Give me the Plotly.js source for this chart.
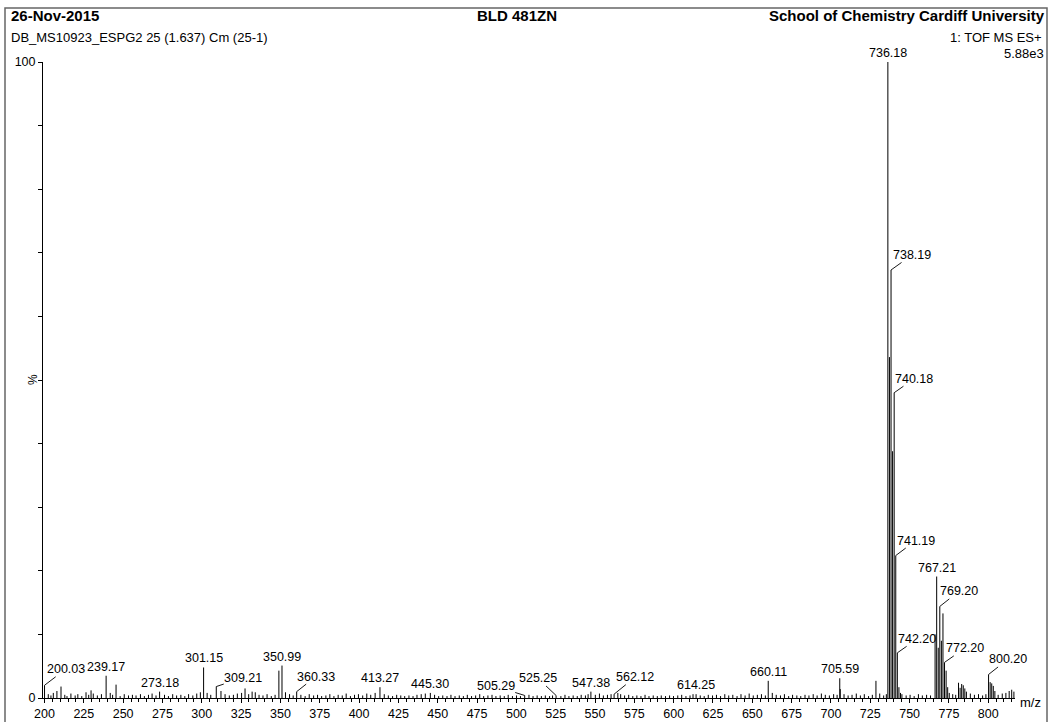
<!DOCTYPE html>
<html>
<head>
<meta charset="utf-8">
<script src="https://cdn.plot.ly/plotly-3.0.1.min.js"></script>
<style>
  html, body { margin: 0; padding: 0; background: #fff; }
  #chart { width: 1052px; height: 722px; }
</style>
</head>
<body>
<div id="chart"></div>
<script>
// Labelled peaks: m/z and relative intensity (%)
const labelMz = [200.03, 239.17, 273.18, 301.15, 309.21, 350.99, 360.33, 413.27, 445.30,
                 505.29, 525.25, 547.38, 562.12, 614.25, 660.11, 705.59, 736.18, 738.19,
                 740.18, 741.19, 742.20, 767.21, 769.20, 772.20, 800.20];
const labelInt = [2.0, 3.5, 1.0, 4.8, 1.8, 5.1, 1.0, 1.7, 0.8,
                  0.4, 0.4, 1.0, 0.6, 0.6, 2.7, 3.1, 100, 67.3,
                  48.0, 22.4, 7.1, 19.1, 14.4, 5.6, 3.7];

// Other resolved peaks (unlabelled)
const peakMz = [207.9, 210.5, 229.6, 245.5, 327.5, 334.0, 349.01, 705.9, 728.6, 735.2,
                737.18, 739.18, 743.20, 744.2, 766.20, 768.20, 770.20, 771.20, 773.20, 774.20,
                775.2, 781.1, 782.1, 783.1, 784.1, 785.1, 786.1, 801.20, 802.20, 803.2,
                804.2, 813.3, 814.9, 816.3];
const peakInt = [1.1, 1.8, 1.2, 2.1, 1.5, 0.9, 4.3, 1.4, 2.7, 0.6,
                 53.6, 38.8, 1.7, 0.8, 10.0, 7.9, 9.0, 13.3, 4.3, 1.7,
                 0.8, 2.4, 1.6, 2.2, 2.0, 1.5, 1.0, 2.5, 2.3, 1.9,
                 1.1, 1.1, 1.3, 1.0];

// Baseline noise
const noiseMz = [
  202.4, 204.1, 205.6, 212.9, 214.3, 216.8, 219.5, 221.2, 223.7, 226.4,
  228.1, 231.0, 233.6, 236.2, 241.8, 243.3, 248.1, 250.7, 253.4, 255.9,
  258.2, 261.0, 263.5, 266.1, 268.4, 270.9, 276.3, 278.8, 281.5, 284.0,
  286.7, 289.2, 291.6, 294.3, 296.8, 299.1, 303.4, 305.7, 312.2, 314.8,
  317.5, 320.1, 322.6, 325.3, 329.8, 332.0, 336.4, 338.9, 341.5, 344.2,
  346.6, 353.2, 355.8, 358.1, 363.0, 365.7, 368.3, 371.1, 373.6, 376.2,
  378.9, 381.4, 384.0, 386.7, 389.3, 391.8, 394.5, 397.1, 399.6, 402.3,
  404.9, 407.4, 410.2, 416.0, 418.6, 421.3, 423.9, 426.5, 429.0, 431.7,
  434.3, 436.8, 439.5, 442.1, 448.0, 450.6, 453.2, 455.9, 458.4, 461.0,
  463.7, 466.3, 468.8, 471.5, 474.1, 476.7, 479.2, 481.9, 484.5, 487.0,
  489.7, 492.3, 494.8, 497.5, 500.1, 502.6, 508.0, 510.6, 513.2, 515.9,
  518.4, 521.1, 523.0, 528.3, 530.9, 533.4, 536.1, 538.7, 541.2, 543.9,
  545.6, 550.2, 552.8, 555.3, 557.9, 560.2, 564.5, 566.3, 568.8, 571.4,
  574.0, 576.6, 579.2, 581.8, 584.3, 587.0, 589.6, 592.1, 594.8, 597.4,
  599.9, 602.6, 605.1, 607.8, 610.4, 612.3, 616.9, 619.4, 622.0, 624.7,
  627.2, 629.8, 632.5, 635.0, 637.6, 640.3, 642.8, 645.4, 648.0, 650.6,
  653.2, 655.8, 658.3, 662.7, 665.2, 667.9, 670.4, 673.1, 675.6, 678.3,
  680.8, 683.5, 686.0, 688.7, 691.2, 693.9, 696.4, 699.0, 701.7, 703.9,
  708.3, 710.9, 713.4, 716.1, 718.7, 721.2, 723.9, 726.3, 731.0, 733.5,
  745.1, 747.8, 750.3, 752.9, 755.6, 758.1, 760.8, 763.3, 777.4, 779.3,
  788.6, 791.2, 793.8, 796.4, 798.5, 806.3, 808.9, 811.2
];
const noiseInt = [
  0.6, 0.4, 0.8, 0.5, 0.3, 0.7, 0.4, 0.6, 0.3, 0.9,
  0.5, 0.7, 0.4, 0.6, 0.8, 0.5, 0.3, 0.6, 0.4, 0.5,
  0.4, 0.6, 0.3, 0.5, 0.7, 0.4, 0.5, 0.3, 0.6, 0.4,
  0.5, 0.3, 0.6, 0.4, 0.7, 0.9, 0.8, 0.5, 1.1, 0.6,
  0.4, 0.5, 0.7, 0.8, 0.6, 1.0, 0.5, 0.4, 0.6, 0.3,
  0.5, 0.9, 0.6, 0.4, 0.5, 0.3, 0.6, 0.4, 0.5, 0.3,
  0.4, 0.6, 0.3, 0.5, 0.4, 0.7, 0.3, 0.5, 0.6, 0.4,
  0.7, 0.5, 0.8, 0.6, 0.4, 0.3, 0.5, 0.4, 0.3, 0.4,
  0.3, 0.5, 0.6, 0.7, 0.5, 0.3, 0.4, 0.3, 0.5, 0.3,
  0.4, 0.3, 0.5, 0.3, 0.4, 0.6, 0.3, 0.4, 0.5, 0.3,
  0.4, 0.3, 0.5, 0.3, 0.4, 0.3, 0.5, 0.3, 0.4, 0.3,
  0.4, 0.3, 0.4, 0.3, 0.5, 0.3, 0.4, 0.3, 0.5, 0.4,
  0.6, 0.5, 0.7, 0.4, 0.5, 0.6, 0.8, 0.6, 0.4, 0.5,
  0.3, 0.4, 0.3, 0.5, 0.3, 0.4, 0.3, 0.4, 0.3, 0.4,
  0.3, 0.4, 0.5, 0.3, 0.4, 0.6, 0.4, 0.3, 0.5, 0.4,
  0.5, 0.3, 0.6, 0.4, 0.5, 0.3, 0.6, 0.4, 0.7, 0.4,
  0.5, 0.6, 0.4, 0.8, 0.5, 0.4, 0.6, 0.3, 0.5, 0.4,
  0.3, 0.5, 0.4, 0.6, 0.4, 0.7, 0.5, 0.4, 0.6, 0.5,
  0.6, 0.4, 0.5, 0.7, 0.4, 0.6, 0.3, 0.5, 0.7, 0.4,
  0.6, 0.4, 0.5, 0.3, 0.6, 0.4, 0.5, 0.4, 0.6, 0.5,
  0.7, 0.5, 0.6, 0.4, 0.6, 0.5, 0.7, 0.8
];

// Axis ticks
const yTickVals = [0, 10, 20, 30, 40, 50, 60, 70, 80, 90, 100];
const yTickText = ['0', '', '', '', '', '', '', '', '', '', '100'];

// Header texts
const runDate = '26-Nov-2015';
const sampleName = 'BLD 481ZN';
const lab = 'School of Chemistry Cardiff University';
const scanInfo = 'DB_MS10923_ESPG2 25 (1.637) Cm (25-1)';
const modeInfo = '1: TOF MS ES+';
const baseIntensity = '5.88e3';

// Leader-line offsets (px) for labels placed beside their peak
const leaderOffsets = {
  '200.03': [21, -16], '309.21': [27, -9], '360.33': [19, -15], '505.29': [-29, -9],
  '525.25': [-18, -17], '562.12': [21, -17], '738.19': [21, -15], '740.18': [20, -14],
  '741.19': [20, -15], '742.20': [20, -14], '769.20': [19, -15], '772.20': [20, -14],
  '800.20': [19, -15]
};

// Build stick spectrum: each peak is a vertical segment from 0 to its intensity
function sticks(mz, inten) {
  const xs = [], ys = [];
  mz.forEach((m, i) => { xs.push(m, m, null); ys.push(0, inten[i], null); });
  return { xs, ys };
}
const allMz = noiseMz.concat(peakMz, labelMz);
const allInt = noiseInt.concat(peakInt, labelInt);
const st = sticks(allMz, allInt);

const FONT = 'Liberation Sans, Arial, Helvetica, sans-serif';
const L = 43, R = 1015, T = 62, B = 698;
const px = x => (x - L) / (R - L);
const py = y => (B - y) / (B - T);

const annotations = [];
labelMz.forEach((m, i) => {
  const txt = m.toFixed(2);
  const off = leaderOffsets[txt];
  if (off) {
    annotations.push({
      x: m, y: labelInt[i], xref: 'x', yref: 'y', text: txt,
      showarrow: true, ax: off[0], ay: off[1], arrowhead: 0, arrowwidth: 0.9,
      arrowcolor: '#000', standoff: 0, startstandoff: 0, borderpad: 0,
      font: { family: FONT, size: 12.5, color: '#000' }
    });
  } else {
    annotations.push({
      x: m, y: labelInt[i], xref: 'x', yref: 'y', text: txt,
      showarrow: false, xanchor: 'center', yanchor: 'bottom', borderpad: 0, yshift: 1,
      font: { family: FONT, size: 12.5, color: '#000' }
    });
  }
});

function headerText(text, x, y, anchor, size, bold) {
  return {
    xref: 'paper', yref: 'paper', x: px(x), y: py(y), xanchor: anchor, yanchor: 'middle',
    text: bold ? '<b>' + text + '</b>' : text, showarrow: false, borderpad: 0,
    font: { family: FONT, size: size, color: '#000' }
  };
}
annotations.push(headerText(runDate, 10, 16, 'left', 15, true));
annotations.push(headerText(sampleName, 517, 16, 'center', 15, true));
annotations.push(headerText(lab, 1046, 16, 'right', 15, true));
annotations.push(headerText(scanInfo, 10, 37, 'left', 13, false));
annotations.push(headerText(modeInfo, 1043, 37, 'right', 13, false));
annotations.push(headerText(baseIntensity, 1045, 53, 'right', 13, false));
annotations.push(headerText('m/z', 1030, 702, 'center', 13, false));
annotations.push({
  xref: 'paper', yref: 'paper', x: px(33), y: py(380), xanchor: 'center', yanchor: 'middle',
  text: '%', textangle: -90, showarrow: false,
  font: { family: FONT, size: 12, color: '#000' }
});

const data = [{
  type: 'scatter', mode: 'lines', x: st.xs, y: st.ys,
  line: { color: '#000', width: 1 }, hoverinfo: 'skip', connectgaps: false
}];

const layout = {
  width: 1052, height: 722,
  margin: { l: L, r: 1052 - R, t: T, b: 722 - B, pad: 0 },
  paper_bgcolor: '#fff', plot_bgcolor: '#fff',
  showlegend: false,
  font: { family: FONT, size: 13, color: '#000' },
  xaxis: {
    range: [199.05, 817], tickmode: 'linear', tick0: 200, dtick: 25,
    ticks: 'outside', ticklen: 4, tickwidth: 1, tickcolor: '#000',
    showline: true, linecolor: '#000', linewidth: 1,
    showgrid: false, zeroline: false,
    tickfont: { family: FONT, size: 12.5, color: '#000' },
    minor: { tick0: 200, dtick: 5, ticks: 'outside', ticklen: 3, tickcolor: '#000', tickwidth: 1, showgrid: false }
  },
  yaxis: {
    range: [0, 100], tickmode: 'array', tickvals: yTickVals, ticktext: yTickText,
    ticks: 'outside', ticklen: 4, tickwidth: 1, tickcolor: '#000',
    showline: true, linecolor: '#000', linewidth: 1,
    showgrid: false, zeroline: false,
    tickfont: { family: FONT, size: 12.5, color: '#000' }
  },
  shapes: [{
    type: 'rect', xref: 'paper', yref: 'paper',
    x0: px(5), x1: px(1047), y0: py(735), y1: py(8),
    line: { color: '#666', width: 1.5 }, fillcolor: 'rgba(0,0,0,0)', layer: 'below'
  }],
  annotations: annotations
};

Plotly.newPlot('chart', data, layout, { staticPlot: true, displayModeBar: false });
</script>
</body>
</html>
